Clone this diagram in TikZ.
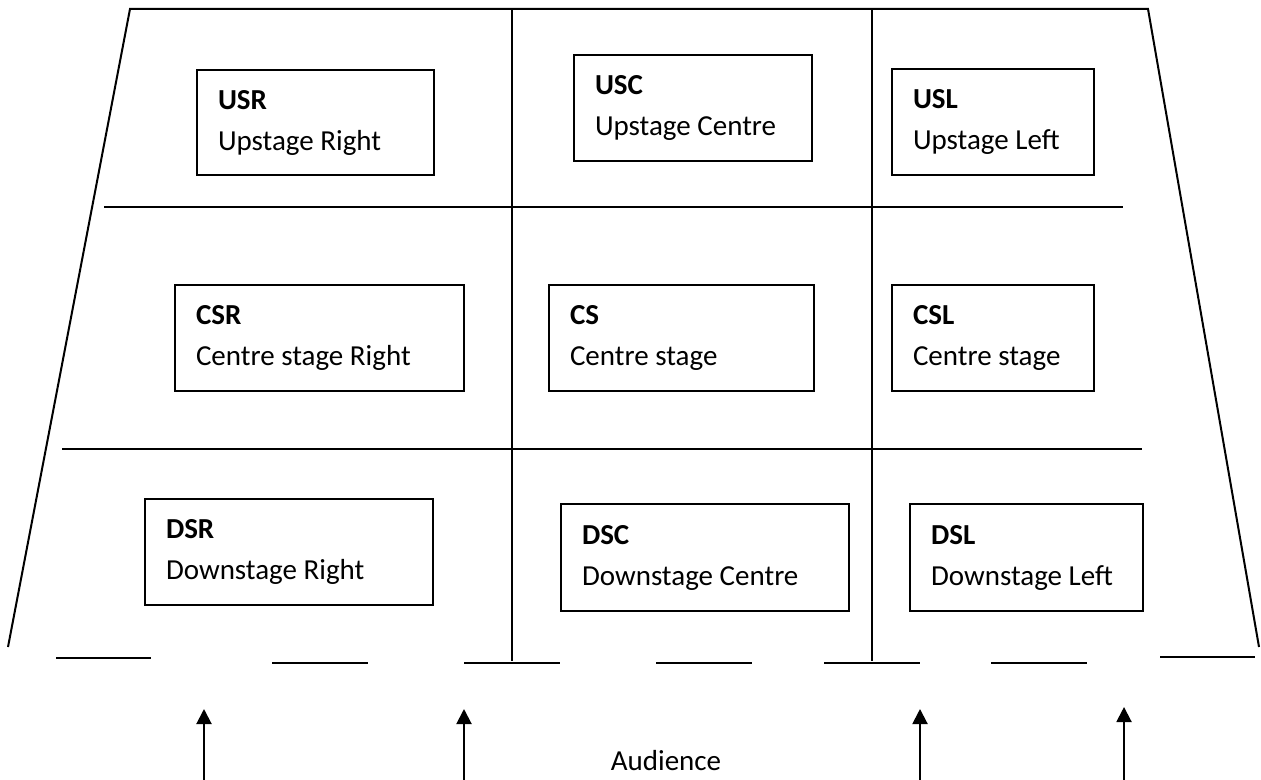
\documentclass[tikz,border=0pt]{standalone}
\usepackage{fontspec}
\setmainfont{Carlito}
\usepackage{tikz}
\usetikzlibrary{arrows.meta}

\begin{document}
\begin{tikzpicture}[x=0.5pt, y=-0.5pt, line width=1pt,
          stagebox/.style={draw, rectangle, anchor=north west, align=flush left,
                           inner xsep=10.5pt, font=\fontsize{14.5pt}{20.5pt}\selectfont},
          arr/.style={-{Triangle[length=7.5pt, width=7.5pt]}, draw=black, line width=1pt}
        ]
        \useasboundingbox (0,0) rectangle (1261,780);

        % stage outline and grid
        \draw (8,647) -- (130,9) -- (1148,9) -- (1259,647);
        \draw (104,207) -- (1123,207);
        \draw (62,449) -- (1142,449);
        \draw (512,9) -- (512,661);
        \draw (872,9) -- (872,661);

        % front edge
        \draw (56,658)   -- (151,658);
        \draw (272,663)  -- (368,663);
        \draw (464,663)  -- (560,663);
        \draw (656,663)  -- (752,663);
        \draw (824,663)  -- (920,663);
        \draw (991,663)  -- (1087,663);
        \draw (1160,657) -- (1255,657);

        % stage areas
        \node[stagebox, text width=97.5pt,  minimum height=52.5pt] (usr) at (196,69)  {\textbf{USR}\\Upstage Right};
        \node[stagebox, text width=98pt,    minimum height=53pt]   (usc) at (573,54)  {\textbf{USC}\\Upstage Centre};
        \node[stagebox, text width=80pt,    minimum height=53pt]   (usl) at (891,68)  {\textbf{USL}\\Upstage Left};
        \node[stagebox, text width=123.5pt, minimum height=53pt]   (csr) at (174,284) {\textbf{CSR}\\Centre stage Right};
        \node[stagebox, text width=111.5pt, minimum height=53pt]   (cs)  at (548,284) {\textbf{CS}\\Centre stage};
        \node[stagebox, text width=80pt,    minimum height=53pt]   (csl) at (891,284) {\textbf{CSL}\\Centre stage};
        \node[stagebox, text width=123pt,   minimum height=53pt]   (dsr) at (144,498) {\textbf{DSR}\\Downstage Right};
        \node[stagebox, text width=123pt,   minimum height=53.5pt] (dsc) at (560,503) {\textbf{DSC}\\Downstage Centre};
        \node[stagebox, text width=95.5pt,  minimum height=53.5pt] (dsl) at (909,503) {\textbf{DSL}\\Downstage Left};

        % audience
        \node[anchor=base, font=\fontsize{14.5pt}{17pt}\selectfont] (aud) at (666,770) {Audience};

        \coordinate (v1) at (204,782);  \coordinate (t1) at (204,709);
        \coordinate (v2) at (464,782);  \coordinate (t2) at (464,709);
        \coordinate (v3) at (920,782);  \coordinate (t3) at (920,709);
        \coordinate (v4) at (1124,782); \coordinate (t4) at (1124,707);
        \draw[arr] (v1) -- (t1);
        \draw[arr] (v2) -- (t2);
        \draw[arr] (v3) -- (t3);
        \draw[arr] (v4) -- (t4);
      \end{tikzpicture}
\end{document}
